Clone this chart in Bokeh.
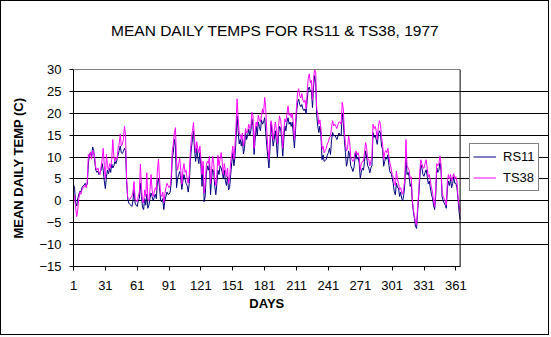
from bokeh.plotting import figure
from bokeh.models import (Range1d, FixedTicker, Legend, LegendItem, ColumnDataSource,
                          BoxAnnotation, LinearAxis)
from bokeh.embed import file_html
from bokeh.resources import INLINE

title_text = "MEAN DAILY TEMPS FOR RS11 & TS38, 1977"
x_label = "DAYS"
y_label = "MEAN DAILY TEMP (C)"
series_names = ["RS11", "TS38"]
x_ticks = [1, 31, 61, 91, 121, 151, 181, 211, 241, 271, 301, 331, 361]
y_ticks = [-15, -10, -5, 0, 5, 10, 15, 20, 25, 30]

days = list(range(1, 366))

rs11 = [
    3.8, 2.9, -0.5, -1.2, 0.5, 1.5, 2.2, 2.0, 3.0, 3.4,
    3.6, 4.0, 3.5, 3.9, 8.4, 10.5, 11.0, 10.0, 12.3, 11.5,
    9.0, 7.0, 6.5, 6.8, 6.0, 6.5, 7.0, 8.5, 7.0, 4.5,
    2.8, 5.5, 7.0, 6.2, 7.4, 6.5, 8.4, 7.5, 8.0, 9.0,
    8.5, 9.5, 10.5, 11.5, 12.5, 11.0, 10.8, 11.3, 12.0, 11.5,
    4.5, 0.5, -0.5, -0.8, -1.0, -1.3, 0.0, 2.5, -0.5, -1.0,
    -1.3, 0.0, 0.5, 4.0, 1.0, -1.5, -2.0, 0.5, -1.0, 1.5,
    -1.7, -1.0, 0.5, 1.8, 1.0, 0.0, 0.8, 1.5, 0.5, 4.4,
    5.0, 3.0, 0.0, -0.2, 0.5, -2.0, 0.0, 1.0, 2.0, 1.5,
    1.5, 2.0, 4.0, 9.8, 11.0, 14.1, 12.5, 3.0, 5.0, 6.0,
    6.7, 5.0, 2.6, 4.5, 6.0, 5.0, 4.0, 3.5, 2.0, 4.0,
    9.0, 12.0, 14.0, 16.0, 11.5, 9.0, 12.0, 10.0, 8.5, 11.0,
    7.9, 3.3, 8.0, -0.2, 1.0, 6.0, 8.0, 7.0, 8.5, 1.4,
    5.0, 7.2, 6.5, 3.3, 1.4, 4.0, 7.0, 6.0, 8.0, 7.5,
    6.5, 5.2, 7.0, 4.5, 3.5, 5.5, 2.5, 3.0, 6.0, 8.7,
    11.0, 8.0, 10.0, 14.0, 19.4, 16.0, 13.0, 14.0, 12.5, 14.0,
    10.7, 12.0, 15.6, 14.0, 15.0, 16.4, 15.0, 16.0, 18.7, 17.1,
    10.6, 14.0, 17.0, 15.0, 18.0, 17.0, 16.0, 18.5, 17.5, 18.0,
    19.0, 15.6, 12.5, 10.0, 7.5, 12.0, 17.9, 15.0, 12.5, 14.0,
    16.0, 13.5, 9.8, 15.0, 17.0, 16.5, 14.0, 10.2, 14.0, 17.1,
    16.0, 18.0, 19.0, 17.5, 18.0, 17.0, 18.0, 15.0, 12.1, 16.0,
    20.2, 22.5, 23.2, 22.0, 21.5, 22.0, 21.0, 20.6, 21.0, 19.9,
    23.0, 25.5, 26.0, 25.0, 25.2, 21.3, 26.0, 28.6, 27.0, 19.4,
    17.0, 15.6, 17.1, 14.8, 9.4, 10.5, 9.0, 9.2, 9.5, 10.5,
    11.0, 12.0, 10.6, 14.0, 15.6, 14.8, 15.0, 14.5, 14.0, 14.8,
    15.5, 15.0, 15.0, 19.9, 18.0, 14.1, 11.0, 7.9, 9.0, 11.4,
    10.5, 8.0, 7.5, 6.7, 7.5, 9.5, 11.0, 9.5, 10.0, 8.5,
    5.2, 6.5, 7.5, 7.0, 9.0, 11.4, 10.0, 8.0, 7.5, 6.4,
    7.5, 8.0, 15.6, 14.5, 15.0, 14.0, 12.9, 15.0, 16.0, 15.5,
    12.5, 11.8, 7.9, 9.0, 10.0, 9.5, 10.5, 8.0, 6.5, 6.4,
    5.2, 4.0, 2.1, 1.4, 4.0, 3.0, 2.9, 1.0, 2.0, 0.5,
    0.0, 1.5, 4.0, 10.6, 6.0, 6.5, 5.5, 3.3, 4.0, -0.2,
    -2.5, -4.0, -5.9, -6.3, -2.5, 1.0, 5.0, 8.3, 7.5, 6.0,
    5.6, 6.5, 7.1, 5.6, 3.9, 4.5, 2.9, 1.5, 0.6, -1.0,
    -2.0, 1.0, 7.5, 6.5, 7.0, 8.7, 7.0, 1.0, 0.0, -0.5,
    -1.0, -1.7, 2.9, 4.5, 3.5, 5.0, 3.0, 4.0, 5.5, 4.0,
    4.0, 3.0, 0.5, -2.5, -4.3,
]

ts38 = [
    1.5, 1.0, -1.5, -3.6, -2.0, 0.5, 2.0, 1.5, 2.5, 3.0,
    3.2, 3.6, 3.0, 4.5, 10.6, 10.0, 11.2, 9.5, 11.5, 11.0,
    10.0, 7.5, 7.0, 7.5, 6.5, 6.0, 7.8, 9.5, 12.0, 8.0,
    5.0, 10.6, 8.0, 7.0, 8.5, 7.5, 9.5, 14.0, 10.0, 9.0,
    10.0, 9.5, 12.0, 13.0, 15.2, 12.5, 13.0, 14.0, 17.0, 15.0,
    5.2, 0.8, 0.5, 0.3, 0.8, 1.0, 2.0, 4.4, 0.5, 0.0,
    -0.2, 1.0, 2.0, 8.4, 3.0, 0.0, -0.5, 2.5, 1.0, 6.4,
    0.5, 0.0, 2.5, 6.0, 2.5, 1.0, 2.0, 3.0, 2.5, 7.0,
    9.5, 5.0, 1.5, 1.0, 2.0, -0.5, 1.5, 3.0, 4.0, 3.5,
    3.0, 3.5, 5.5, 11.4, 13.0, 15.6, 16.7, 9.0, 7.0, 8.5,
    9.8, 7.0, 3.8, 7.0, 8.5, 6.5, 7.0, 5.0, 4.0, 6.0,
    11.0, 14.4, 16.0, 17.9, 13.6, 11.0, 13.5, 12.0, 11.0, 12.5,
    9.4, 6.0, 9.0, 1.8, 3.5, 8.0, 9.0, 8.5, 10.2, 4.0,
    7.0, 10.2, 8.5, 5.0, 3.5, 6.0, 10.4, 8.0, 9.5, 11.0,
    9.0, 6.0, 8.5, 7.0, 5.5, 7.5, 4.0, 5.0, 9.0, 10.5,
    12.5, 9.5, 12.5, 17.0, 23.3, 19.0, 15.5, 15.0, 14.0, 15.5,
    12.5, 14.0, 16.5, 15.5, 16.0, 17.5, 16.5, 17.0, 20.2, 19.4,
    12.0, 16.0, 18.0, 17.0, 19.5, 18.5, 18.0, 19.5, 21.0, 20.0,
    23.6, 21.0, 16.0, 12.0, 9.5, 14.0, 18.3, 17.0, 14.0, 16.0,
    18.0, 16.5, 13.0, 17.0, 19.4, 18.5, 16.0, 12.0, 16.0, 18.7,
    18.0, 20.0, 21.7, 19.5, 20.0, 19.0, 20.0, 17.5, 14.0, 18.0,
    21.5, 24.8, 25.6, 24.0, 23.5, 24.5, 23.0, 22.5, 23.0, 21.0,
    25.0, 28.0, 29.0, 27.0, 27.5, 23.0, 28.0, 30.0, 29.5, 21.0,
    19.8, 17.5, 18.5, 16.5, 11.8, 12.5, 11.0, 11.5, 12.0, 13.0,
    13.5, 14.5, 14.8, 17.0, 18.3, 17.1, 17.5, 17.0, 16.5, 17.5,
    18.0, 18.0, 17.5, 22.5, 21.0, 16.0, 13.0, 11.4, 12.0, 14.8,
    13.5, 10.0, 9.5, 9.0, 9.5, 11.0, 11.4, 10.5, 11.0, 10.0,
    7.0, 8.5, 9.0, 9.0, 11.0, 13.3, 12.0, 9.5, 9.5, 8.0,
    9.0, 10.0, 17.5, 16.5, 17.0, 16.0, 14.0, 17.0, 18.3, 17.5,
    14.5, 13.0, 9.5, 11.0, 11.5, 11.0, 12.0, 10.0, 8.5, 7.5,
    6.0, 5.5, 4.0, 3.5, 6.8, 5.0, 4.0, 2.5, 3.0, 2.0,
    1.5, 3.0, 5.0, 14.0, 8.0, 7.5, 7.0, 5.0, 5.5, 0.5,
    -2.0, -3.5, -4.8, -5.5, -1.5, 2.0, 6.5, 9.4, 8.5, 7.5,
    7.5, 8.5, 9.4, 7.5, 5.5, 6.0, 4.5, 3.0, 2.0, 0.0,
    -1.3, 2.5, 8.5, 8.0, 8.5, 10.2, 8.5, 2.0, 1.0, 0.5,
    0.0, -1.0, 4.5, 6.0, 5.0, 6.0, 4.5, 5.5, 6.2, 5.0,
    5.5, 4.5, 1.0, -1.0, -2.5,
]

assert len(rs11) == len(days) == len(ts38)

FONT = "Liberation Sans"

# plot-area geometry (pixels) - the frame is extended to the right so the
# legend can sit inside it without being clipped
W, H = 549, 335
LEFT, TOP, BOTTOM, RIGHT = 72, 68, 70, 0
PLOT_PX = 385                       # width of the visible plot area
x0, x1 = days[0], days[-1]
frame_px = (W - 2) - LEFT - RIGHT
x_end = x0 + (x1 - x0) * frame_px / PLOT_PX
x_mid = (x0 + x1) // 2              # centre of the plot area (for "DAYS")
title_pos = 191                     # centre of the whole chart, in day units

src = ColumnDataSource(data=dict(day=days, rs11=rs11, ts38=ts38))

p = figure(
    width=W, height=H,
    output_backend="svg", toolbar_location=None,
    x_range=Range1d(x0, x_end), y_range=Range1d(y_ticks[0], y_ticks[-1]),
    min_border_left=LEFT, min_border_right=RIGHT,
    min_border_top=TOP, min_border_bottom=BOTTOM,
    background_fill_color="white", border_fill_color="white",
)
p.styles = {"border": "1px solid black"}
p.title.visible = False

p.outline_line_color = None

p.xgrid.visible = False
p.ygrid.ticker = FixedTicker(ticks=y_ticks)
p.ygrid.grid_line_color = "black"
p.ygrid.grid_line_width = 1
p.ygrid.grid_line_alpha = 1.0
p.ygrid.bounds = (x0, x1)

p.xaxis.ticker = FixedTicker(ticks=x_ticks)
p.yaxis.ticker = FixedTicker(ticks=y_ticks)
p.xaxis.bounds = (x0, x1)

for ax in (p.xaxis[0], p.yaxis[0]):
    ax.axis_line_color = "black"
    ax.major_tick_line_color = "black"
    ax.minor_tick_line_color = None
    ax.major_tick_in = 0
    ax.major_tick_out = 4
    ax.major_label_text_font = FONT
    ax.major_label_text_font_size = "13px"
    ax.major_label_text_color = "black"
    ax.axis_label_text_font = FONT
    ax.axis_label_text_font_size = "13px"
    ax.axis_label_text_font_style = "bold"
    ax.axis_label_text_color = "black"

p.yaxis.axis_label = y_label
p.xaxis.major_label_standoff = 10
p.yaxis.major_label_standoff = 8
p.yaxis.axis_label_standoff = 10

# x-axis title, centred under the plot area
days_axis = LinearAxis(
    ticker=FixedTicker(ticks=[x_mid]),
    major_label_overrides={x_mid: x_label},
    axis_line_color=None, major_tick_line_color=None, minor_tick_line_color=None,
    major_tick_in=0, major_tick_out=0, major_label_standoff=3,
    major_label_text_font=FONT, major_label_text_font_size="13px",
    major_label_text_font_style="bold", major_label_text_color="black",
)
p.add_layout(days_axis, "below")

# chart title, centred on the whole chart
title_axis = LinearAxis(
    ticker=FixedTicker(ticks=[title_pos]),
    major_label_overrides={title_pos: title_text},
    axis_line_color=None, major_tick_line_color=None, minor_tick_line_color=None,
    major_tick_in=0, major_tick_out=0, major_label_standoff=31,
    major_label_text_font=FONT, major_label_text_font_size="15.5px",
    major_label_text_font_style="normal", major_label_text_color="black",
)
p.add_layout(title_axis, "above")

r1 = p.line("day", "rs11", source=src, line_color="#000080", line_width=1)
r2 = p.line("day", "ts38", source=src, line_color="#FF00FF", line_width=1)

plot_box = BoxAnnotation(left=x0, right=x1, bottom=y_ticks[0], top=y_ticks[-1],
                         fill_color=None, line_color="black", line_alpha=1.0,
                         line_width=1)
p.add_layout(plot_box)

legend = Legend(
    items=[LegendItem(label=series_names[0], renderers=[r1]),
           LegendItem(label=series_names[1], renderers=[r2])],
    location=(396, 75),
    padding=3,
    spacing=2,
    glyph_width=23,
    glyph_height=19,
    label_height=19,
    label_standoff=7,
    label_text_font=FONT,
    label_text_font_size="13px",
    label_text_color="black",
    border_line_color="black",
    border_line_width=1,
    background_fill_color="white",
    background_fill_alpha=1.0,
)
p.add_layout(legend, "center")

open("out.html", "w").write(file_html(p, INLINE))
